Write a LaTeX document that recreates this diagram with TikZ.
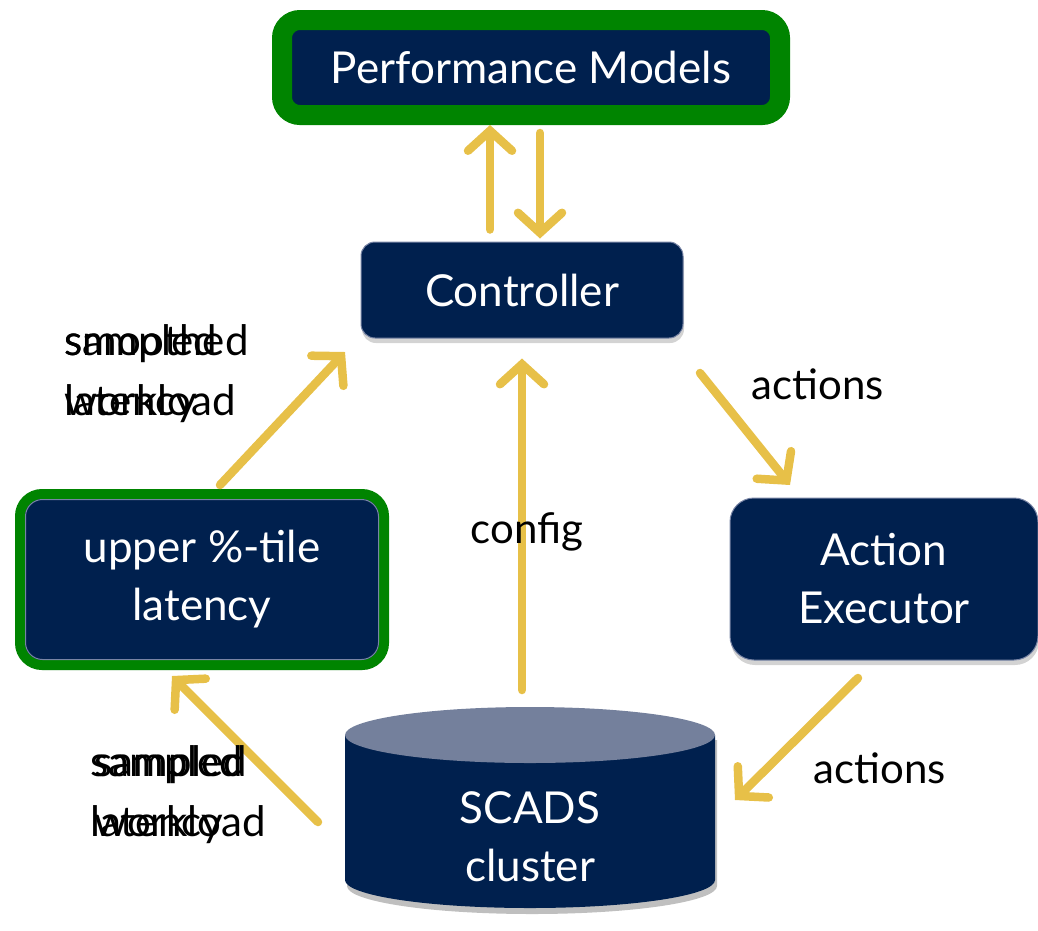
\documentclass[tikz,border=0pt]{standalone}
\usepackage{fontspec}
\setmainfont{Lato}
\usetikzlibrary{arrows.meta,shadows}

\definecolor{navy}{RGB}{0,32,78}
\definecolor{boxgreen}{RGB}{0,132,0}
\definecolor{arrowyellow}{RGB}{231,192,72}
\definecolor{cyltop}{RGB}{116,128,156}
\definecolor{boxedge}{RGB}{120,132,165}

\tikzset{every picture/.style={line width=0.75pt}}
\tikzset{
  navybox/.style={rounded corners=14pt, fill=navy, draw=boxedge, line width=1pt, text=white, align=center,
    font=\fontsize{44}{58}\selectfont, drop shadow={opacity=0.35,shadow xshift=1pt,shadow yshift=-5pt}},
  greenbox/.style={navybox, draw=boxgreen},
  yarrow/.style={draw=arrowyellow, line width=8.5pt, line cap=round,
    -{Straight Barb[length=20pt,width=44pt,line cap=round]}},
  flowlabel/.style={font=\fontsize{42}{60}\selectfont, text=black, align=left, inner sep=0pt}
}

\begin{document}
\begin{tikzpicture}[x=1pt,y=1pt,yscale=-1,xscale=1]
		\useasboundingbox (0,0) rectangle (1038,930);
		
		% Boxes
		\node[greenbox, line width=20pt, rounded corners=18pt, minimum width=498pt, minimum height=95pt] (pm) at (531,67.5) {Performance Models};
		\node[navybox, minimum width=322pt, minimum height=96pt] (ctrl) at (522,290) {Controller};
		\node[greenbox, line width=10pt, rounded corners=22pt, minimum width=364pt, minimum height=171pt] (tile) at (202,579.5) {upper \%-tile\\latency};
		\draw[boxedge, line width=1pt, rounded corners=17pt] (25.5,499.5) rectangle (378.5,659.5);
		\node[navybox, rounded corners=24pt, minimum width=308pt, minimum height=162pt] (exec) at (884,579) {Action\\Executor};
		
		%Shape: Cylinder
		\fill[black, opacity=0.25] (347,740) -- (347,886) arc[start angle=180,end angle=0,x radius=185,y radius=28] -- (717,740) -- cycle ;
		\fill[navy] (345,735) -- (345,880) arc[start angle=180,end angle=0,x radius=185,y radius=28] -- (715,735) -- cycle ;
		\fill[cyltop] (530,735) ellipse [x radius=185, y radius=28] ;
		\node[text=white, align=center, font=\fontsize{44}{58}\selectfont] (scads) at (530,837) {SCADS\\cluster};
		
		% Arrow ends
		\coordinate (tile-out) at (220,485);
		\coordinate (ctrl-in) at (345,352);
		\coordinate (ctrl-out) at (700,373);
		\coordinate (exec-in) at (790,485);
		\coordinate (exec-out) at (858,678);
		\coordinate (scads-in) at (735,800);
		\coordinate (scads-out) at (318,822);
		\coordinate (tile-in) at (172,676);
		
		% Arrows
		\draw[yarrow, shorten <=12pt] (490,0 |- ctrl.north) -- (490,0 |- pm.south);
		\draw[yarrow, shorten <=8pt, shorten >=3pt] (540,0 |- pm.south) -- (540,0 |- ctrl.north);
		\draw[yarrow, shorten <=17pt, shorten >=20pt] (522,707) -- (ctrl.south);
		\draw[yarrow] (tile-out) -- (ctrl-in);
		\draw[yarrow] (ctrl-out) -- (exec-in);
		\draw[yarrow] (exec-out) -- (scads-in);
		\draw[yarrow] (scads-out) -- (tile-in);
		
		% Text Node
		\node[flowlabel, anchor=north west] (lbl-smoothed) at (64,324) {smoothed\\latency};
		% Text Node
		\node[flowlabel, anchor=north west] (lbl-sampled) at (64,324) {sampled\\workload};
		% Text Node
		\node[flowlabel, anchor=north west] (lbl-lat) at (90,745) {sampled\\latency};
		% Text Node
		\node[flowlabel, anchor=north west] (lbl-work) at (94,745) {sampled\\workload};
		% Text Node
		\node[flowlabel] (lbl-act1) at (818,384) {actions};
		% Text Node
		\node[flowlabel] (lbl-act2) at (880,768) {actions};
		% Text Node
		\node[flowlabel] (lbl-config) at (527,532) {config};
	\end{tikzpicture}
\end{document}
